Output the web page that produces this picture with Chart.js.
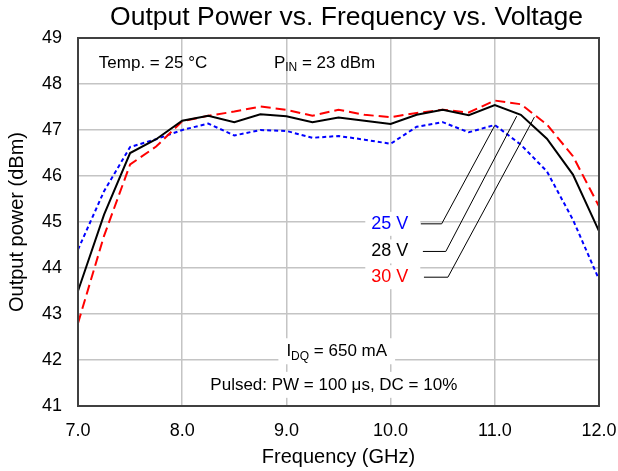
<!DOCTYPE html>
<html>
<head>
<meta charset="utf-8">
<script src="https://cdn.jsdelivr.net/npm/chart.js@4"></script>
<style>
  html, body { margin: 0; padding: 0; background: #fff; }
  #chart { display: block; }
</style>
</head>
<body>
<canvas id="chart" width="618" height="471"></canvas>
<script>
// Frequencies (GHz) and output power (dBm) per drain voltage
const freqs = [7.0, 7.25, 7.5, 7.75, 8.0, 8.25, 8.5, 8.75, 9.0, 9.25, 9.5, 9.75, 10.0, 10.25, 10.5, 10.75, 11.0, 11.25, 11.5, 11.75, 12.0];
const power25V = [44.4, 45.67, 46.63, 46.8, 47.0, 47.14, 46.88, 47.0, 46.98, 46.83, 46.87, 46.79, 46.7, 47.07, 47.17, 46.95, 47.11, 46.68, 46.1, 45.05, 43.75];
const power28V = [43.5, 45.16, 46.5, 46.8, 47.2, 47.31, 47.17, 47.34, 47.3, 47.17, 47.27, 47.2, 47.13, 47.33, 47.44, 47.32, 47.54, 47.33, 46.81, 46.03, 44.8];
const power30V = [42.8, 44.7, 46.25, 46.64, 47.19, 47.31, 47.4, 47.51, 47.44, 47.31, 47.44, 47.33, 47.28, 47.37, 47.44, 47.38, 47.64, 47.56, 47.12, 46.43, 45.34];
const xTicks = [7, 8, 9, 10, 11, 12];
const yTicks = [41, 42, 43, 44, 45, 46, 47, 48, 49];

const FONT = '"Liberation Sans", Arial, Helvetica, sans-serif';
const TITLE = 'Output Power vs. Frequency vs. Voltage';

function toPoints(values) {
  return freqs.map((f, i) => ({ x: f, y: values[i] }));
}

// callout labels with leader lines (data coordinates)
const callouts = [
  { text: '25 V', color: '#0000ff', x: 10.17, y: 44.96, line: [[10.29, 44.96], [10.49, 44.96], [11.0, 47.1]] },
  { text: '28 V', color: '#000000', x: 10.17, y: 44.36, line: [[10.31, 44.36], [10.53, 44.36], [11.21, 47.30]] },
  { text: '30 V', color: '#ff0000', x: 10.17, y: 43.80, line: [[10.32, 43.80], [10.55, 43.80], [11.38, 47.28]] }
];

// text with an optional subscript part: [main, sub, rest]
const notes = [
  { parts: ['Temp. = 25 °C'], x: 7.2, y: 48.46, box: false },
  { parts: ['P', 'IN', ' = 23 dBm'], x: 8.88, y: 48.46, box: false },
  { parts: ['I', 'DQ', ' = 650 mA'], x: 9.0, y: 42.19, box: true },
  { parts: ['Pulsed: PW = 100 μs, DC = 10%'], x: 8.27, y: 41.46, box: true }
];

function measureParts(ctx, parts) {
  let w = 0;
  parts.forEach((p, i) => {
    ctx.font = (i === 1 ? '12px ' : '17px ') + FONT;
    w += ctx.measureText(p).width;
  });
  return w;
}

function drawParts(ctx, parts, x, y) {
  let cx = x;
  parts.forEach((p, i) => {
    ctx.font = (i === 1 ? '12px ' : '17px ') + FONT;
    ctx.fillText(p, cx, i === 1 ? y + 5 : y);
    cx += ctx.measureText(p).width;
  });
}

const annotationPlugin = {
  id: 'annotations',
  beforeDatasetsDraw(chart) {
    const ctx = chart.ctx;
    const xs = chart.scales.x, ys = chart.scales.y;
    ctx.save();
    ctx.textBaseline = 'middle';
    ctx.textAlign = 'left';
    // white boxes behind texts that sit on the grid
    notes.forEach(n => {
      if (!n.box) return;
      const px = xs.getPixelForValue(n.x), py = ys.getPixelForValue(n.y);
      const w = measureParts(ctx, n.parts);
      ctx.fillStyle = '#fff';
      ctx.fillRect(px - 8, py - 13, w + 16, 26);
    });
    ctx.font = '18px ' + FONT;
    callouts.forEach(c => {
      const px = xs.getPixelForValue(c.x), py = ys.getPixelForValue(c.y);
      const w = ctx.measureText(c.text).width;
      ctx.fillStyle = '#fff';
      ctx.fillRect(px - w - 6, py - 12, w + 18, 24);
    });
    ctx.restore();
  },
  afterDatasetsDraw(chart) {
    const ctx = chart.ctx;
    const area = chart.chartArea;
    const xs = chart.scales.x, ys = chart.scales.y;
    ctx.save();
    ctx.textBaseline = 'middle';
    ctx.fillStyle = '#000';
    ctx.textAlign = 'left';
    notes.forEach(n => {
      drawParts(ctx, n.parts, xs.getPixelForValue(n.x), ys.getPixelForValue(n.y));
    });
    ctx.font = '18px ' + FONT;
    ctx.textAlign = 'right';
    callouts.forEach(c => {
      ctx.fillStyle = c.color;
      ctx.fillText(c.text, xs.getPixelForValue(c.x), ys.getPixelForValue(c.y));
      ctx.strokeStyle = '#000';
      ctx.lineWidth = 1;
      ctx.beginPath();
      c.line.forEach((p, i) => {
        const px = xs.getPixelForValue(p[0]), py = ys.getPixelForValue(p[1]);
        if (i === 0) ctx.moveTo(px, py); else ctx.lineTo(px, py);
      });
      ctx.stroke();
    });
    // plot frame
    ctx.strokeStyle = '#404040';
    ctx.lineWidth = 2;
    ctx.strokeRect(area.left, area.top, area.right - area.left, area.bottom - area.top);
    // chart title, centred a little right of the plot centre like the original
    ctx.fillStyle = '#000';
    ctx.textAlign = 'center';
    ctx.font = '26.5px ' + FONT;
    ctx.fillText(TITLE, (area.left + area.right) / 2 + 8, 18);
    ctx.restore();
  }
};

const ctx = document.getElementById('chart').getContext('2d');
const chart = new Chart(ctx, {
  type: 'line',
  data: {
    datasets: [
      { label: '28 V', data: toPoints(power28V), borderColor: '#000000', borderWidth: 2, order: 1 },
      { label: '30 V', data: toPoints(power30V), borderColor: '#ff0000', borderWidth: 2, borderDash: [10, 5], order: 2 },
      { label: '25 V', data: toPoints(power25V), borderColor: '#0000ff', borderWidth: 2, borderDash: [4, 3], order: 3 }
    ]
  },
  options: {
    responsive: false,
    animation: false,
    elements: { point: { radius: 0 }, line: { tension: 0, fill: false } },
    layout: { padding: { left: 0, right: 19, top: 38, bottom: 0 } },
    plugins: {
      legend: { display: false },
      tooltip: { enabled: false },
      title: { display: false }
    },
    scales: {
      x: {
        type: 'linear',
        min: 7,
        max: 12,
        afterBuildTicks: scale => { scale.ticks = xTicks.map(v => ({ value: v })); },
        afterFit: scale => {
          scale.height = 65;
          scale.paddingLeft = 0;
          scale.paddingRight = 0;
        },
        ticks: {
          color: '#000',
          font: { family: FONT, size: 18 },
          padding: 14,
          callback: v => Number(v).toFixed(1)
        },
        grid: { color: '#c4c4c4', lineWidth: 1.5, drawTicks: false },
        border: { display: false },
        title: {
          display: true,
          text: 'Frequency (GHz)',
          color: '#000',
          font: { family: FONT, size: 20 },
          padding: { top: 0, bottom: 2 }
        }
      },
      y: {
        min: 41,
        max: 49,
        afterBuildTicks: scale => { scale.ticks = yTicks.map(v => ({ value: v })); },
        afterFit: scale => {
          scale.width = 78;
          scale.paddingTop = 0;
          scale.paddingBottom = 0;
        },
        ticks: {
          color: '#000',
          font: { family: FONT, size: 18 },
          padding: 16
        },
        grid: { color: '#c4c4c4', lineWidth: 1.5, drawTicks: false },
        border: { display: false },
        title: {
          display: true,
          text: 'Output power (dBm)',
          color: '#000',
          font: { family: FONT, size: 20 },
          padding: { top: 5, bottom: 0 }
        }
      }
    }
  },
  plugins: [annotationPlugin]
});
</script>
</body>
</html>
